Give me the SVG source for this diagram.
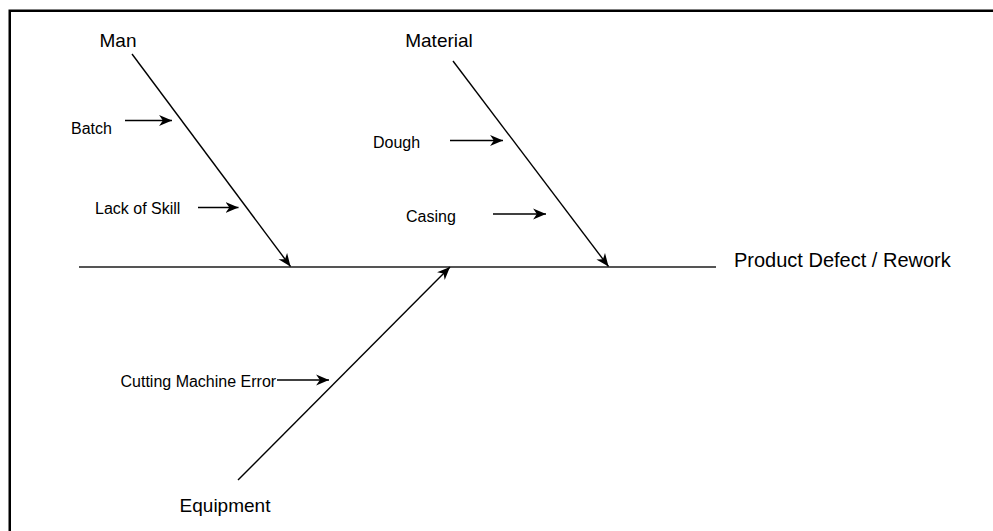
<svg xmlns="http://www.w3.org/2000/svg" width="993" height="531" viewBox="0 0 993 531">
<style>
text{font-family:"Liberation Sans",Arial,sans-serif;fill:#000}
.big{font-size:19px}
.small{font-size:16px}
.title{font-size:20px}
.bone{stroke:#000;stroke-width:1.4;fill:none}
.cause{stroke:#000;stroke-width:1.5;fill:none}
</style>
<defs>
<marker id="ah" markerUnits="userSpaceOnUse" markerWidth="14" markerHeight="12" refX="12" refY="5" orient="auto" viewBox="0 0 13 10">
<path d="M0,0 L12,5 L0,10 L3.5,5 Z" fill="#000"/>
</marker>
</defs>
<rect x="9.75" y="10.75" width="1100" height="600" fill="#fff" stroke="#000" stroke-width="2.5"/>
<g id="connectors">
<line x1="79" y1="267" x2="716" y2="267" stroke="#555" stroke-width="2"/>
<line class="bone" x1="132" y1="54" x2="290.5" y2="266.5" marker-end="url(#ah)"/>
<line class="bone" x1="453" y1="61" x2="608.5" y2="266.5" marker-end="url(#ah)"/>
<line class="bone" x1="238" y1="480" x2="450" y2="267" marker-end="url(#ah)"/>
<line class="cause" x1="125" y1="120.5" x2="172" y2="120.5" marker-end="url(#ah)"/>
<line class="cause" x1="198" y1="207.5" x2="238.5" y2="207.5" marker-end="url(#ah)"/>
<line class="cause" x1="450" y1="140.5" x2="503" y2="140.5" marker-end="url(#ah)"/>
<line class="cause" x1="493" y1="214" x2="546" y2="214" marker-end="url(#ah)"/>
<line class="cause" x1="277" y1="380" x2="329" y2="380" marker-end="url(#ah)"/>
</g>
<g id="man"><text class="big" x="118" y="47" text-anchor="middle">Man</text></g>
<g id="material"><text class="big" x="439" y="47" text-anchor="middle">Material</text></g>
<g id="equipment"><text class="big" x="225" y="512" text-anchor="middle">Equipment</text></g>
<g id="effect"><text class="title" x="734" y="267">Product Defect / Rework</text></g>
<g id="batch"><text class="small" x="71" y="134">Batch</text></g>
<g id="lack-of-skill"><text class="small" x="95" y="214">Lack of Skill</text></g>
<g id="dough"><text class="small" x="373" y="147.5">Dough</text></g>
<g id="casing"><text class="small" x="406" y="221.5">Casing</text></g>
<g id="cutting-machine-error"><text class="small" x="120.5" y="386.5">Cutting Machine Error</text></g>
</svg>
